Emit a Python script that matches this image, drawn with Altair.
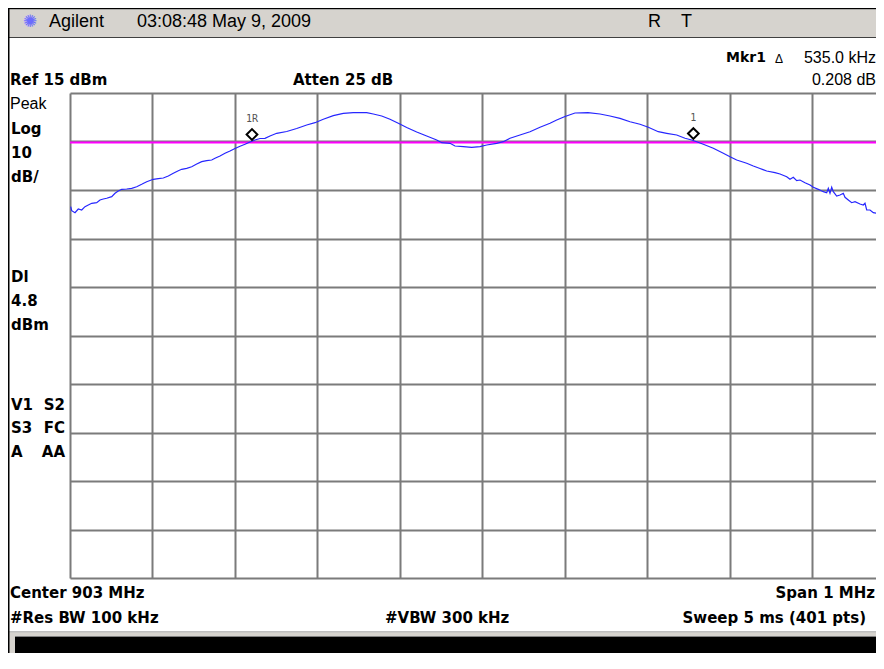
import altair as alt
import pandas as pd

# ---------------- data read from the screen ----------------
# frequency offset from the 903 MHz center (kHz) and trace amplitude (dBm)
offset_khz = [
    -499.15, -497.94, -493.94, -489.94, -485.82, -481.82, -477.82, -473.70, -467.64, -463.64,
    -459.64, -455.52, -449.45, -445.45, -441.45, -437.33, -431.27, -425.21, -419.15, -413.09,
    -407.03, -399.03, -392.97, -386.91, -380.85, -374.79, -368.73, -364.61, -358.55, -352.48,
    -346.42, -340.36, -334.30, -328.24, -324.24, -318.18, -312.12, -306.06, -300.00, -293.94,
    -287.88, -281.82, -275.76, -269.70, -263.64, -257.58, -249.45, -237.33, -225.21, -213.09,
    -203.03, -192.97, -180.85, -168.73, -156.61, -140.36, -132.36, -122.18, -112.12, -102.06,
    -91.88, -79.76, -67.64, -55.52, -49.45, -39.39, -33.33, -23.27, -13.09, -3.03,
    5.09, 17.21, 25.21, 33.33, 45.45, 57.58, 69.70, 81.82, 89.94, 100.00,
    112.12, 127.88, 142.42, 154.55, 166.67, 178.79, 190.91, 200.97, 213.09, 223.27,
    235.39, 245.45, 253.58, 259.64, 267.64, 279.76, 291.88, 300.00, 308.12, 320.24,
    328.24, 336.36, 344.48, 354.55, 360.61, 368.73, 372.73, 376.73, 380.85, 384.85,
    390.91, 396.97, 400.97, 407.03, 413.09, 417.21, 419.15, 421.21, 423.27, 425.21,
    429.33, 433.33, 437.33, 439.39, 443.39, 447.52, 451.52, 457.58, 461.58, 463.64,
    465.70, 469.70, 473.70, 477.82, 481.82, 485.82, 487.27,
]
amp_dbm = [
    -8.44, -9.27, -9.68, -8.92, -9.12, -8.44, -8.09, -7.74, -7.62, -7.06,
    -6.86, -6.71, -6.38, -5.68, -5.21, -4.86, -4.79, -4.65, -4.32, -3.82,
    -3.29, -2.79, -2.67, -2.53, -2.11, -1.56, -1.02, -0.73, -0.53, -0.20,
    0.36, 0.84, 1.04, 1.19, 1.54, 2.01, 2.57, 3.04, 3.56, 4.01,
    4.42, 4.90, 5.31, 5.62, 5.66, 6.13, 6.69, 7.06, 7.68, 8.40,
    8.88, 9.58, 10.32, 10.81, 10.94, 10.94, 10.67, 10.26, 9.58, 8.75,
    7.89, 6.96, 6.13, 5.31, 4.75, 4.63, 4.07, 3.93, 3.80, 3.93,
    4.28, 4.63, 4.96, 5.66, 6.34, 7.02, 7.93, 8.75, 9.43, 10.15,
    10.88, 10.94, 10.67, 10.26, 9.78, 9.08, 8.55, 7.93, 7.02, 6.69,
    6.34, 5.66, 5.31, 4.96, 4.42, 3.60, 2.57, 1.87, 1.19, 0.51,
    -0.05, -0.57, -1.08, -1.43, -1.70, -2.26, -2.79, -2.38, -3.08, -2.94,
    -3.49, -3.97, -4.44, -4.86, -5.35, -5.56, -4.65, -5.68, -4.44, -5.35,
    -6.24, -6.03, -5.68, -6.51, -7.06, -7.62, -7.41, -7.89, -8.09, -7.74,
    -9.12, -9.12, -9.68, -9.80, -10.15, -10.51, -9.33,
]
display_line_dbm = 4.8
x_div_khz = [-500, -400, -300, -200, -100, 0, 100, 200, 300, 400]
y_div_dbm = [15, 5, -5, -15, -25, -35, -45, -55, -65, -75, -85]
x_domain_khz = [-500, 476.97]          # right edge of the screen cuts the last division
y_domain_dbm = [-85, 15]
marker_labels = ["1R", "1"]
marker_khz = [-279.4, 255.6]
marker_dbm = [5.0, 5.2]

trace = pd.DataFrame({"offset_khz": offset_khz, "dbm": amp_dbm})
markers = pd.DataFrame({"offset_khz": marker_khz, "dbm": marker_dbm, "label": marker_labels})
dl = pd.DataFrame({"dbm": [display_line_dbm]})
one = pd.DataFrame({"_": [0]})

# ---------------- layout (page pixels) ----------------
OX, OY = 70, 93          # plot origin on the page
RIGHT, BOTTOM = 876, 653  # largest page extent that avoids any scrolling
W, H = RIGHT - OX, 485
GRID = "#7b7b7b"
BOLD = "DejaVu Sans"
REG = "Liberation Sans"
PANEL = "#d6d3ce"

xscale = alt.Scale(domain=x_domain_khz, nice=False, zero=False)
yscale = alt.Scale(domain=y_domain_dbm, nice=False, zero=False)
xaxis = alt.Axis(values=x_div_khz, labels=False, ticks=False, domain=False, title=None,
                 grid=True, gridColor=GRID, gridWidth=2, gridOpacity=1)
yaxis = alt.Axis(values=y_div_dbm, labels=False, ticks=False, domain=False, title=None,
                 grid=True, gridColor=GRID, gridWidth=2, gridOpacity=1)


def rect(x1, y1, x2, y2, color):
    return alt.Chart(one).mark_rect(color=color, opacity=1).encode(
        x=alt.value(x1 - OX), x2=alt.value(x2 - OX),
        y=alt.value(y1 - OY), y2=alt.value(y2 - OY))


def label(txt, px, py, size=15, bold=True, align="left", color="black", font=None):
    return alt.Chart(one).mark_text(
        text=txt, align=align, baseline="middle", fontSize=size,
        fontWeight="bold" if bold else "normal",
        font=font or (BOLD if bold else REG), color=color,
    ).encode(x=alt.value(px - OX), y=alt.value(py - OY))


grid_layer = alt.Chart(trace).mark_line(opacity=0).encode(
    x=alt.X("offset_khz:Q", scale=xscale, axis=xaxis),
    y=alt.Y("dbm:Q", scale=yscale, axis=yaxis))

dl_layer = alt.Chart(dl).mark_rule(color="#ff00ff", strokeWidth=2).encode(
    y=alt.Y("dbm:Q", scale=yscale))

trace_layer = alt.Chart(trace).mark_line(color="#2626ff", strokeWidth=1.2, clip=True).encode(
    x=alt.X("offset_khz:Q", scale=xscale),
    y=alt.Y("dbm:Q", scale=yscale))

marker_pts = alt.Chart(markers).mark_point(
    shape="diamond", fill="white", stroke="black", strokeWidth=2, size=115,
    filled=False, opacity=1, fillOpacity=1, yOffset=-7).encode(
    x=alt.X("offset_khz:Q", scale=xscale),
    y=alt.Y("dbm:Q", scale=yscale))

marker_txt = alt.Chart(markers).mark_text(
    font="DejaVu Sans Mono", fontSize=10, color="#555555", dy=-23, baseline="middle").encode(
    x=alt.X("offset_khz:Q", scale=xscale),
    y=alt.Y("dbm:Q", scale=yscale),
    text="label:N")

chrome = [
    rect(8, 8, RIGHT, 9.5, "black"),          # top frame
    rect(8, 9.5, RIGHT, 37, PANEL),           # title bar
    rect(8, 37, RIGHT, 38, "#404040"),
    rect(8, 631.5, RIGHT, 632.5, "#808080"),  # bottom frame
    rect(8, 632.5, RIGHT, BOTTOM, PANEL),
    rect(15, 636, RIGHT, 637, "#808080"),
    rect(15, 637, RIGHT, BOTTOM, "black"),    # message line
    rect(8, 8, 9.5, BOTTOM, "black"),         # left frame
]

texts = [
    label("✺", 30, 22, size=17, bold=False, color="#6b6bff", font="DejaVu Sans", align="center"),
    label("Agilent", 49, 22, size=18, bold=False),
    label("03:08:48  May 9, 2009", 137, 22, size=18, bold=False),
    label("R", 648, 22, size=18, bold=False),
    label("T", 681, 22, size=18, bold=False),
    label("Mkr1", 726, 58, size=14),
    label("Δ", 779, 59, size=12, bold=False, align="center"),
    label("535.0 kHz", 876, 58, size=16, bold=False, align="right"),
    label("Ref 15 dBm", 10, 80, size=15),
    label("Atten 25 dB", 293, 80, size=15),
    label("0.208 dB", 876, 80, size=16, bold=False, align="right"),
    label("Peak", 10, 104, size=16, bold=False),
    label("Log", 11, 129, size=15),
    label("10", 11, 153, size=15),
    label("dB/", 11, 177, size=15),
    label("Dl", 11, 277, size=15),
    label("4.8", 11, 301, size=15),
    label("dBm", 11, 325, size=15),
    label("V1", 11, 405, size=15),
    label("S2", 65, 405, size=15, align="right"),
    label("S3", 11, 428, size=15),
    label("FC", 65, 428, size=15, align="right"),
    label("A", 11, 452, size=15),
    label("AA", 65, 452, size=15, align="right"),
    label("Center 903 MHz", 10, 593, size=15),
    label("Span 1 MHz", 875, 593, size=15, align="right"),
    label("#Res BW 100 kHz", 10, 618, size=15),
    label("#VBW 300 kHz", 385, 618, size=15),
    label("Sweep 5 ms (401 pts)", 866, 618, size=15, align="right"),
]

chart = alt.layer(
    *chrome, grid_layer, dl_layer, trace_layer, marker_pts, marker_txt, *texts
).properties(
    width=W, height=H,
    padding={"left": OX - 8, "top": OY - 8, "right": 0, "bottom": BOTTOM - OY - H},
    autosize=alt.AutoSizeParams(type="none"),
    background="white",
).configure_view(stroke=None)

chart.save("out.html", embed_options={"renderer": "svg", "actions": False})
